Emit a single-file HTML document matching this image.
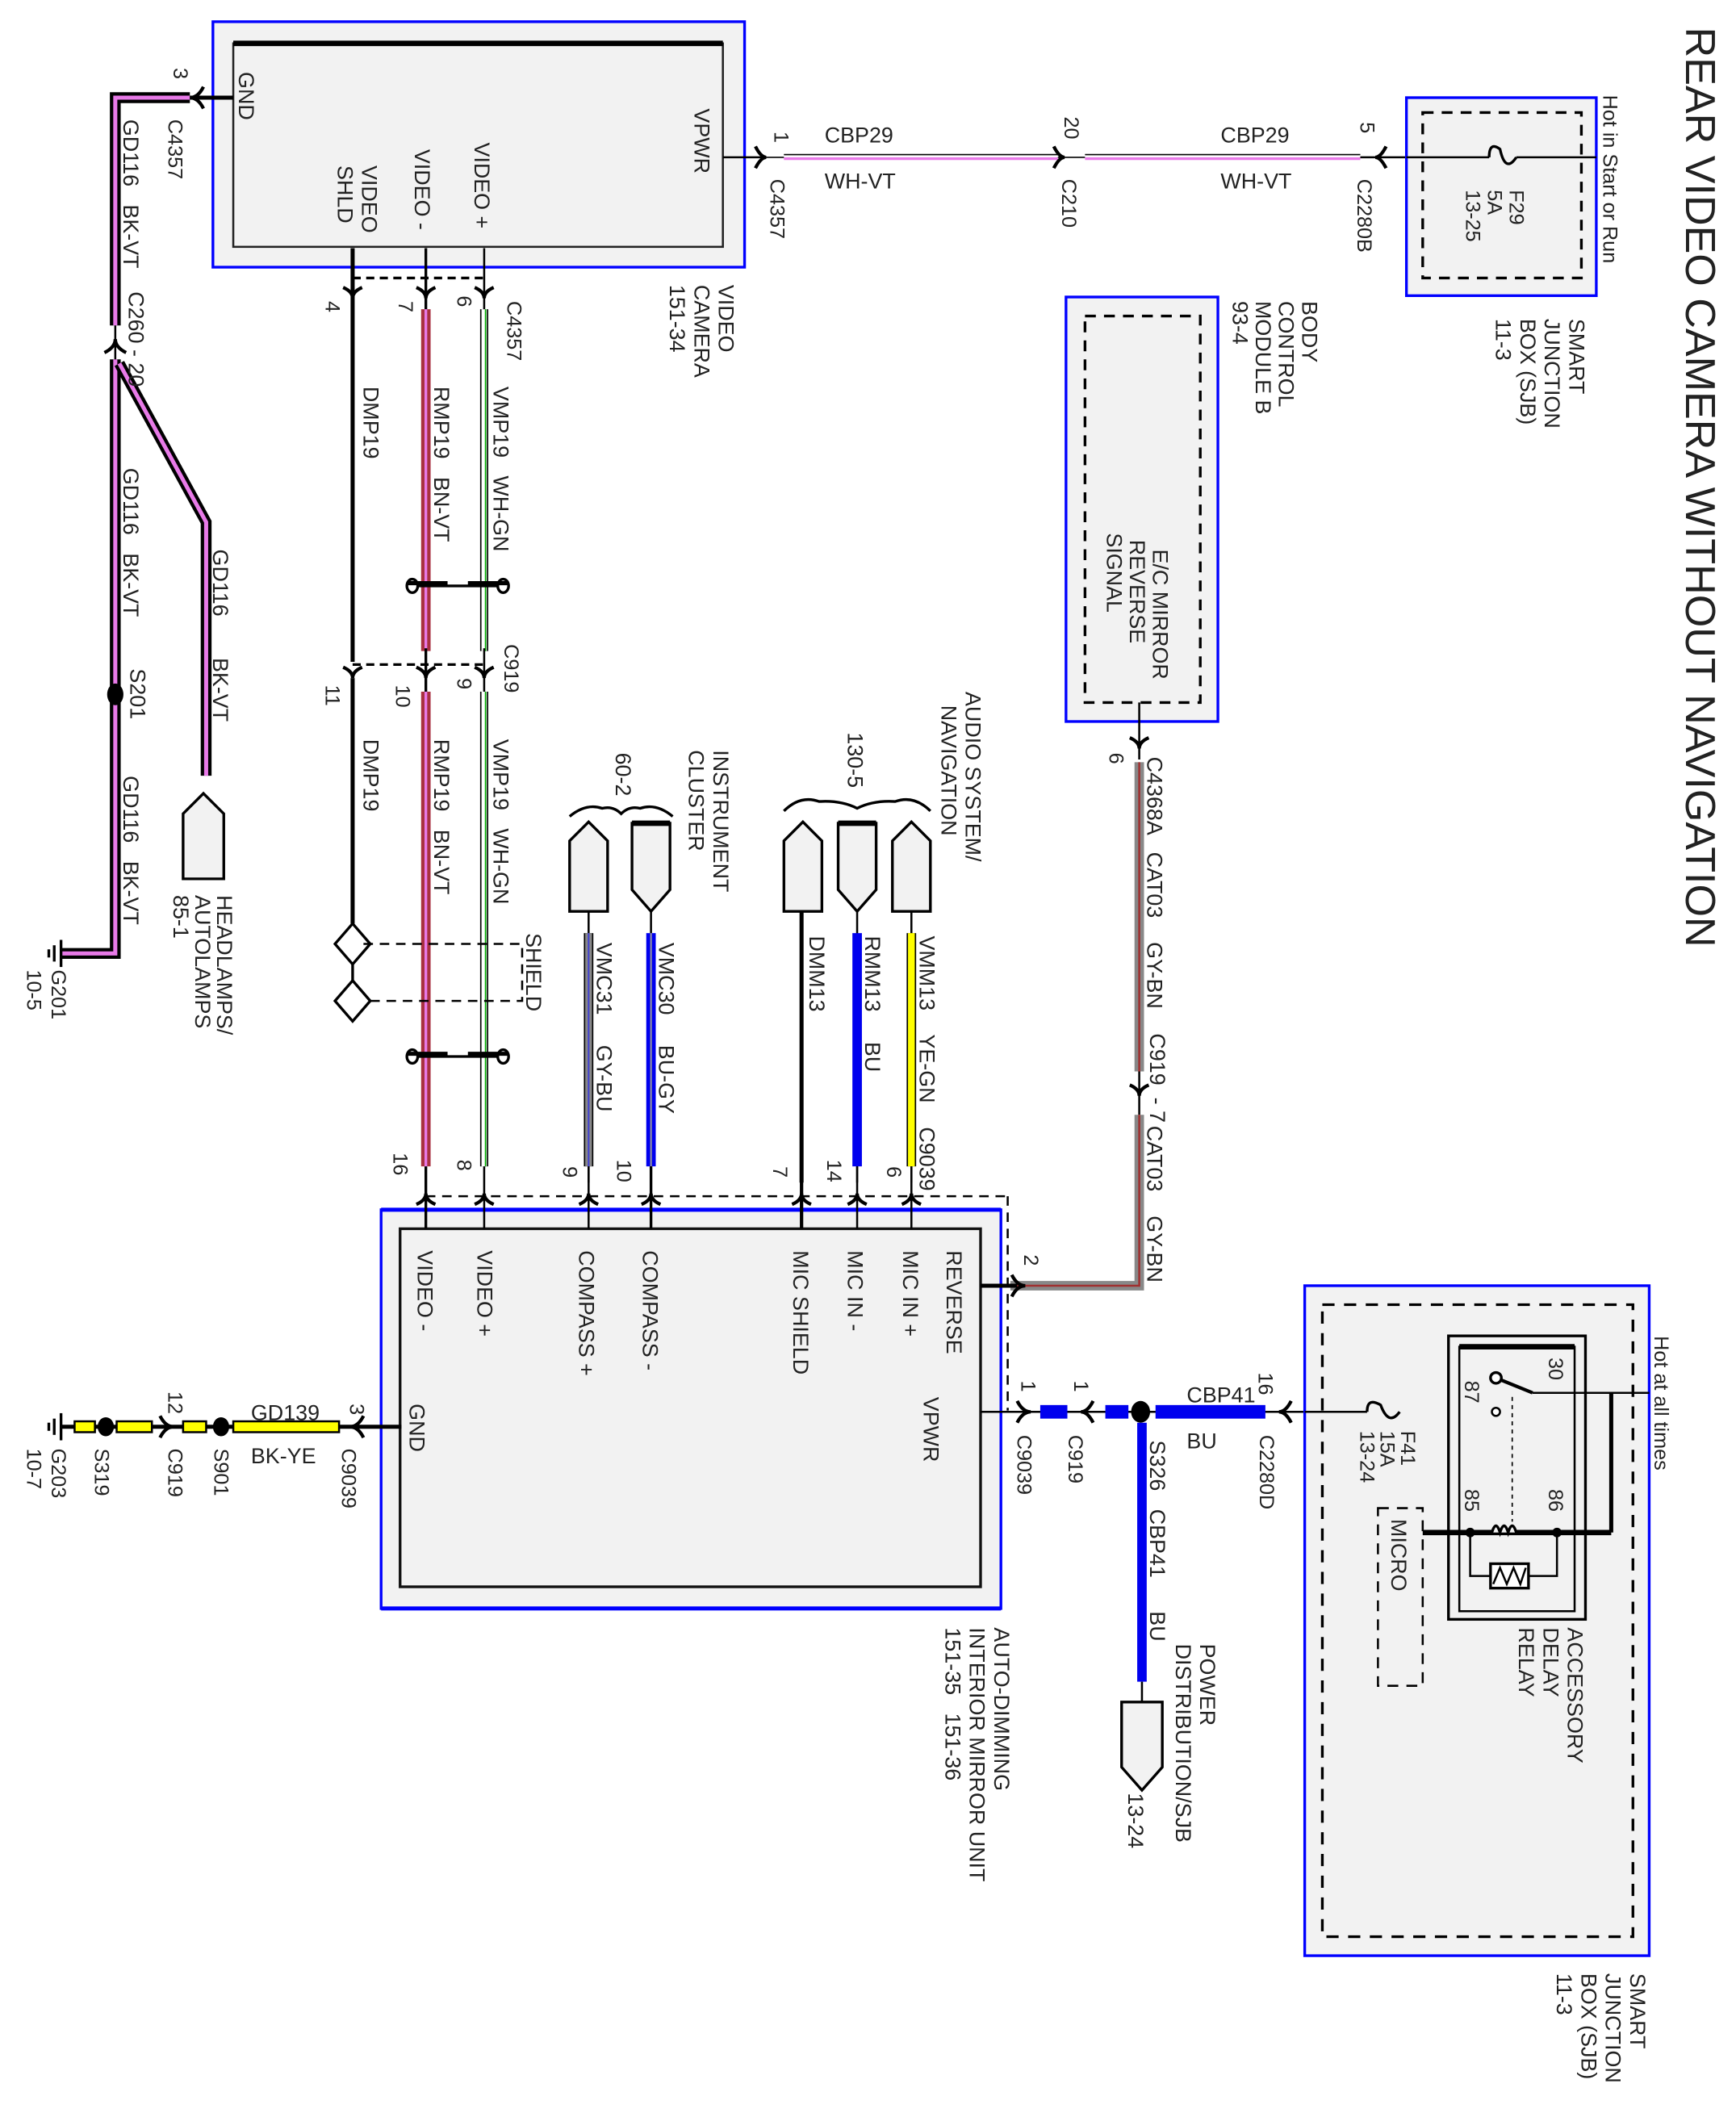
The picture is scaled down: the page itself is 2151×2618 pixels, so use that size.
<!DOCTYPE html>
<html><head><meta charset="utf-8">
<style>
html,body{margin:0;padding:0;background:#fff;}
svg{display:block;}
text{font-family:"Liberation Sans",Arial,sans-serif;fill:#222;font-size:16px;white-space:pre;}
.s{font-size:15px;}
</style></head>
<body>
<svg width="2151" height="2618" viewBox="0 0 1280 1558" preserveAspectRatio="none" xmlns="http://www.w3.org/2000/svg" xml:space="preserve">
<defs>
<path id="ad" d="M-7,-8 Q0,-5 0,0 Q0,-5 7,-8" fill="none" stroke="#000" stroke-width="2.5"/>
</defs>
<rect width="1280" height="1558" fill="#fff"/>

<text transform="translate(1243,20) rotate(90)" style="font-size:31px">REAR VIDEO CAMERA WITHOUT NAVIGATION</text>

<rect x="157" y="16" width="392" height="181" fill="#f2f2f2" stroke="#0000ff" stroke-width="2"/>
<rect x="172" y="32" width="361" height="150" fill="#f2f2f2" stroke="#222" stroke-width="1.5"/>
<line x1="172" y1="32" x2="533" y2="32" stroke="#000" stroke-width="4"/>
<text transform="translate(176,53) rotate(90)">GND</text>
<text transform="translate(512,80) rotate(90)">VPWR</text>
<text transform="translate(350,105) rotate(90)">VIDEO +</text>
<text transform="translate(306,110) rotate(90)">VIDEO -</text>
<text transform="translate(267,122) rotate(90)">VIDEO<tspan x="0" dy="18">SHLD</tspan></text>
<text transform="translate(530,210) rotate(90)">VIDEO<tspan x="0" dy="18">CAMERA</tspan><tspan x="0" dy="18">151-34</tspan></text>

<line x1="260" y1="183" x2="260" y2="488" stroke="#000" stroke-width="3"/>
<line x1="314" y1="183" x2="314" y2="230" stroke="#000" stroke-width="2"/>
<line x1="357" y1="183" x2="357" y2="230" stroke="#000" stroke-width="1.5"/>
<line x1="260" y1="205" x2="357" y2="205" stroke="#000" stroke-width="2" stroke-dasharray="6,4"/>
<use href="#ad" x="260" y="220"/><use href="#ad" x="314" y="220"/><use href="#ad" x="357" y="220"/>
<text class="s" transform="translate(240,222) rotate(90)">4</text>
<text class="s" transform="translate(294,222) rotate(90)">7</text>
<text class="s" transform="translate(337,218) rotate(90)">6</text>
<text class="s" transform="translate(374,222) rotate(90)">C4357</text>

<line x1="314" y1="228" x2="314" y2="480" stroke="#a83040" stroke-width="7"/>
<line x1="314" y1="228" x2="314" y2="480" stroke="#e87ae8" stroke-width="2"/>
<line x1="357" y1="228" x2="357" y2="480" stroke="#000" stroke-width="6"/>
<line x1="357" y1="228" x2="357" y2="480" stroke="#fff" stroke-width="4"/>
<line x1="358" y1="228" x2="358" y2="480" stroke="#0a0" stroke-width="1"/>
<text transform="translate(268,285) rotate(90)">DMP19</text>
<text transform="translate(320,285) rotate(90)">RMP19   BN-VT</text>
<text transform="translate(364,285) rotate(90)">VMP19   WH-GN</text>
<g fill="none" stroke="#000" stroke-width="2">
<path d="M300,432 L375,432"/>
<ellipse cx="304" cy="432" rx="4" ry="5" fill="#fff"/><ellipse cx="371" cy="432" rx="4" ry="5" fill="#fff"/>
<line x1="300" y1="430" x2="330" y2="430" stroke-width="3"/><line x1="345" y1="430" x2="375" y2="430" stroke-width="3"/>
</g>
<line x1="260" y1="490" x2="357" y2="490" stroke="#000" stroke-width="2" stroke-dasharray="6,4"/>
<line x1="314" y1="478" x2="314" y2="512" stroke="#000" stroke-width="2"/>
<line x1="357" y1="478" x2="357" y2="512" stroke="#000" stroke-width="1.5"/>
<use href="#ad" x="260" y="500"/><use href="#ad" x="314" y="500"/><use href="#ad" x="357" y="500"/>
<text class="s" transform="translate(240,505) rotate(90)">11</text>
<text class="s" transform="translate(292,505) rotate(90)">10</text>
<text class="s" transform="translate(337,500) rotate(90)">9</text>
<text class="s" transform="translate(372,475) rotate(90)">C919</text>
<line x1="260" y1="500" x2="260" y2="681" stroke="#000" stroke-width="3"/>
<line x1="314" y1="510" x2="314" y2="860" stroke="#a83040" stroke-width="7"/>
<line x1="314" y1="510" x2="314" y2="860" stroke="#e87ae8" stroke-width="2"/>
<line x1="357" y1="510" x2="357" y2="860" stroke="#000" stroke-width="6"/>
<line x1="357" y1="510" x2="357" y2="860" stroke="#fff" stroke-width="4"/>
<line x1="358" y1="510" x2="358" y2="860" stroke="#0a0" stroke-width="1"/>
<text transform="translate(268,545) rotate(90)">DMP19</text>
<text transform="translate(320,545) rotate(90)">RMP19   BN-VT</text>
<text transform="translate(364,545) rotate(90)">VMP19   WH-GN</text>
<g fill="#fff" stroke="#000" stroke-width="2">
<path d="M260,681 L273,696 L260,711 L247,696 Z"/>
<path d="M260,723 L273,738 L260,753 L247,738 Z"/>
</g>
<line x1="260" y1="711" x2="260" y2="723" stroke="#000" stroke-width="2"/>
<g stroke="#000" stroke-width="1.5" stroke-dasharray="7,5" fill="none">
<path d="M268,696 H385 V738 H268"/>
</g>
<text transform="translate(388,688) rotate(90)">SHIELD</text>
<g fill="none" stroke="#000" stroke-width="2">
<path d="M300,779 L375,779"/>
<ellipse cx="304" cy="779" rx="4" ry="5" fill="#fff"/><ellipse cx="371" cy="779" rx="4" ry="5" fill="#fff"/>
<line x1="300" y1="777" x2="330" y2="777" stroke-width="3"/><line x1="345" y1="777" x2="375" y2="777" stroke-width="3"/>
</g>

<g fill="none" stroke-linejoin="miter">
<path d="M140,72 H85 V240" stroke="#000" stroke-width="8"/>
<path d="M140,72 H85 V240" stroke="#e87ae8" stroke-width="3"/>
<path d="M85,265 V703 H45" stroke="#000" stroke-width="8"/>
<path d="M85,265 V703 H45" stroke="#e87ae8" stroke-width="3"/>
<path d="M88,268 L152,385 V572" stroke="#000" stroke-width="8"/>
<path d="M88,268 L152,385 V572" stroke="#e87ae8" stroke-width="3"/>
</g>
<line x1="140" y1="72" x2="172" y2="72" stroke="#000" stroke-width="3"/>
<path d="M150,64 Q146,72 140,72 Q146,72 150,80" fill="none" stroke="#000" stroke-width="2.5"/>
<line x1="85" y1="240" x2="85" y2="265" stroke="#000" stroke-width="1.5"/>
<path d="M77,260 Q85,256 85,250 Q85,256 93,260" fill="none" stroke="#000" stroke-width="2.5"/>
<ellipse cx="85" cy="512" rx="6" ry="8" fill="#000"/>
<text class="s" transform="translate(128,50) rotate(90)">3</text>
<text class="s" transform="translate(124,88) rotate(90)">C4357</text>
<text transform="translate(91,88) rotate(90)">GD116   BK-VT</text>
<text transform="translate(95,215) rotate(90)">C260 - 20</text>
<text transform="translate(91,345) rotate(90)">GD116   BK-VT</text>
<text transform="translate(96,493) rotate(90)">S201</text>
<text transform="translate(91,572) rotate(90)">GD116   BK-VT</text>
<text transform="translate(157,405) rotate(90)">GD116</text>
<text transform="translate(157,485) rotate(90)">BK-VT</text>
<g stroke="#000" stroke-width="2"><line x1="45" y1="693" x2="45" y2="713"/><line x1="40" y1="697" x2="40" y2="709"/><line x1="36" y1="700" x2="36" y2="706"/></g>
<text class="s" transform="translate(38,715) rotate(90)">G201</text>
<text class="s" transform="translate(20,715) rotate(90)">10-5</text>
<path d="M135,648 V600 L150,585 L165,600 V648 Z" fill="#f2f2f2" stroke="#000" stroke-width="2"/>
<text transform="translate(160,660) rotate(90)">HEADLAMPS/<tspan x="0" dy="16">AUTOLAMPS</tspan><tspan x="0" dy="16">85-1</tspan></text>

<line x1="533" y1="116" x2="565" y2="116" stroke="#000" stroke-width="1.5"/>
<path d="M557,108 Q561,116 565,116 Q561,116 557,124" fill="none" stroke="#000" stroke-width="2.5"/>
<line x1="578" y1="114" x2="780" y2="114" stroke="#000" stroke-width="1"/>
<line x1="578" y1="117" x2="780" y2="117" stroke="#e87ae8" stroke-width="2"/>
<line x1="565" y1="116" x2="578" y2="116" stroke="#000" stroke-width="1"/>
<path d="M777,108 Q781,116 785,116 Q781,116 777,124" fill="none" stroke="#000" stroke-width="2.5"/>
<line x1="780" y1="116" x2="800" y2="116" stroke="#000" stroke-width="1"/>
<line x1="800" y1="114" x2="1003" y2="114" stroke="#000" stroke-width="1"/>
<line x1="800" y1="117" x2="1003" y2="117" stroke="#e87ae8" stroke-width="2"/>
<path d="M1022,108 Q1018,116 1014,116 Q1018,116 1022,124" fill="none" stroke="#000" stroke-width="2.5"/>
<line x1="1003" y1="116" x2="1177" y2="116" stroke="#000" stroke-width="1.5"/>
<text class="s" transform="translate(571,97) rotate(90)">1</text>
<text class="s" transform="translate(568,132) rotate(90)">C4357</text>
<text x="608" y="105">CBP29</text>
<text x="608" y="139">WH-VT</text>
<text class="s" transform="translate(785,86) rotate(90)">20</text>
<text class="s" transform="translate(783,132) rotate(90)">C210</text>
<text x="900" y="105">CBP29</text>
<text x="900" y="139">WH-VT</text>
<text class="s" transform="translate(1003,90) rotate(90)">5</text>
<text class="s" transform="translate(1001,132) rotate(90)">C2280B</text>

<rect x="1037" y="72" width="140" height="146" fill="#f2f2f2" stroke="#0000ff" stroke-width="2"/>
<rect x="1049" y="83" width="117" height="122" fill="none" stroke="#000" stroke-width="2" stroke-dasharray="8,6"/>
<line x1="1037" y1="116" x2="1098" y2="116" stroke="#000" stroke-width="1.5"/>
<line x1="1118" y1="116" x2="1177" y2="116" stroke="#000" stroke-width="1.5"/>
<path d="M1098,116 Q1098,104 1106,110 Q1110,128 1118,116" fill="none" stroke="#000" stroke-width="2"/>
<text class="s" transform="translate(1113,140) rotate(90)">F29<tspan x="0" dy="16">5A</tspan><tspan x="0" dy="16">13-25</tspan></text>
<text class="s" transform="translate(1182,70) rotate(90)">Hot in Start or Run</text>
<text transform="translate(1157,235) rotate(90)">SMART<tspan x="0" dy="18">JUNCTION</tspan><tspan x="0" dy="18">BOX (SJB)</tspan><tspan x="0" dy="18">11-3</tspan></text>

<rect x="786" y="219" width="112" height="313" fill="#f2f2f2" stroke="#0000ff" stroke-width="2"/>
<rect x="800" y="233" width="85" height="285" fill="none" stroke="#000" stroke-width="2" stroke-dasharray="8,6"/>
<text transform="translate(850,405) rotate(90)">E/C MIRROR<tspan x="-7" dy="17">REVERSE</tspan><tspan x="-12" dy="17">SIGNAL</tspan></text>
<text transform="translate(960,222) rotate(90)">BODY<tspan x="0" dy="17">CONTROL</tspan><tspan x="0" dy="17">MODULE B</tspan><tspan x="0" dy="17">93-4</tspan></text>
<line x1="840" y1="518" x2="840" y2="560" stroke="#000" stroke-width="1.5"/>
<use href="#ad" x="840" y="552"/>
<line x1="840" y1="562" x2="840" y2="790" stroke="#888" stroke-width="7"/>
<line x1="840" y1="562" x2="840" y2="790" stroke="#a03030" stroke-width="1.5"/>
<line x1="840" y1="790" x2="840" y2="822" stroke="#000" stroke-width="1.5"/>
<use href="#ad" x="840" y="808"/>
<text class="s" transform="translate(818,555) rotate(90)">6</text>
<text transform="translate(846,558) rotate(90)">C4368A   CAT03    GY-BN</text>
<text transform="translate(848,762) rotate(90)">C919  - 7</text>
<text transform="translate(846,830) rotate(90)">CAT03    GY-BN</text>
<path d="M840,822 V948 H745" fill="none" stroke="#888" stroke-width="7"/>
<path d="M840,822 V948 H745" fill="none" stroke="#a03030" stroke-width="1.5"/>

<path d="M578,672 V620 L592,606 L606,620 V672 Z" fill="#f2f2f2" stroke="#000" stroke-width="2"/>
<path d="M618,607 H646 V656 L632,672 L618,656 Z" fill="#f2f2f2" stroke="#000" stroke-width="2"/>
<line x1="618" y1="607" x2="646" y2="607" stroke="#000" stroke-width="4"/>
<path d="M658,672 V620 L672,606 L686,620 V672 Z" fill="#f2f2f2" stroke="#000" stroke-width="2"/>
<path d="M578,598 Q590,586 604,591 Q620,590 632,596 Q644,590 660,591 Q674,586 686,598" fill="none" stroke="#000" stroke-width="2"/>
<text transform="translate(625,540) rotate(90)">130-5</text>
<text transform="translate(712,510) rotate(90)">AUDIO SYSTEM/<tspan x="10" dy="18">NAVIGATION</tspan></text>
<line x1="591" y1="672" x2="591" y2="872" stroke="#000" stroke-width="3"/>
<line x1="632" y1="672" x2="632" y2="872" stroke="#000" stroke-width="1.5"/>
<line x1="632" y1="688" x2="632" y2="860" stroke="#0000ee" stroke-width="7"/>
<line x1="672" y1="672" x2="672" y2="872" stroke="#000" stroke-width="1.5"/>
<line x1="672" y1="688" x2="672" y2="860" stroke="#000" stroke-width="7"/>
<line x1="672" y1="688" x2="672" y2="860" stroke="#ffff00" stroke-width="5"/>
<text transform="translate(597,690) rotate(90)">DMM13</text>
<text transform="translate(638,690) rotate(90)">RMM13     BU</text>
<text transform="translate(678,690) rotate(90)">VMM13    YE-GN    C9039</text>
<path d="M420,672 V620 L434,606 L448,620 V672 Z" fill="#f2f2f2" stroke="#000" stroke-width="2"/>
<path d="M466,607 H494 V656 L480,672 L466,656 Z" fill="#f2f2f2" stroke="#000" stroke-width="2"/>
<line x1="466" y1="607" x2="494" y2="607" stroke="#000" stroke-width="4"/>
<path d="M420,602 Q432,592 444,596 Q452,594 458,600 Q464,594 472,596 Q484,592 496,602" fill="none" stroke="#000" stroke-width="2"/>
<text transform="translate(454,555) rotate(90)">60-2</text>
<text transform="translate(526,553) rotate(90)">INSTRUMENT<tspan x="0" dy="18">CLUSTER</tspan></text>
<line x1="434" y1="672" x2="434" y2="872" stroke="#000" stroke-width="1.5"/>
<line x1="434" y1="688" x2="434" y2="860" stroke="#000" stroke-width="7"/>
<line x1="434" y1="688" x2="434" y2="860" stroke="#888" stroke-width="5"/>
<line x1="434" y1="688" x2="434" y2="860" stroke="#4040d0" stroke-width="1.2"/>
<line x1="480" y1="672" x2="480" y2="872" stroke="#000" stroke-width="1.5"/>
<line x1="480" y1="688" x2="480" y2="860" stroke="#0000ee" stroke-width="7"/>
<line x1="480" y1="688" x2="480" y2="860" stroke="#999" stroke-width="1.2"/>
<text transform="translate(440,695) rotate(90)">VMC31     GY-BU</text>
<text transform="translate(486,695) rotate(90)">VMC30     BU-GY</text>

<rect x="281" y="892" width="457" height="294" fill="#f2f2f2" stroke="#0000ff" stroke-width="2"/>
<line x1="281" y1="892" x2="738" y2="892" stroke="#0000ff" stroke-width="3"/>
<line x1="281" y1="1186" x2="738" y2="1186" stroke="#0000ff" stroke-width="3"/>
<rect x="295" y="906" width="428" height="264" fill="#f2f2f2" stroke="#111" stroke-width="2"/>
<line x1="314" y1="860" x2="314" y2="906" stroke="#000" stroke-width="2"/>
<line x1="357" y1="860" x2="357" y2="906" stroke="#000" stroke-width="1.5"/>
<line x1="434" y1="860" x2="434" y2="906" stroke="#000" stroke-width="1.5"/>
<line x1="480" y1="860" x2="480" y2="906" stroke="#000" stroke-width="2"/>
<line x1="591" y1="860" x2="591" y2="906" stroke="#000" stroke-width="2.5"/>
<line x1="632" y1="860" x2="632" y2="906" stroke="#000" stroke-width="1.5"/>
<line x1="672" y1="860" x2="672" y2="906" stroke="#000" stroke-width="1.5"/>
<line x1="314" y1="882" x2="743" y2="882" stroke="#000" stroke-width="1.5" stroke-dasharray="7,5"/>
<line x1="743" y1="882" x2="743" y2="1040" stroke="#000" stroke-width="1.5" stroke-dasharray="7,5"/>
<g>
<use href="#ad" x="314" y="872" transform="rotate(180 314 876)"/>
<use href="#ad" x="357" y="872" transform="rotate(180 357 876)"/>
<use href="#ad" x="434" y="872" transform="rotate(180 434 876)"/>
<use href="#ad" x="480" y="872" transform="rotate(180 480 876)"/>
<use href="#ad" x="591" y="872" transform="rotate(180 591 876)"/>
<use href="#ad" x="632" y="872" transform="rotate(180 632 876)"/>
<use href="#ad" x="672" y="872" transform="rotate(180 672 876)"/>
</g>
<text class="s" transform="translate(290,850) rotate(90)">16</text>
<text class="s" transform="translate(337,855) rotate(90)">8</text>
<text class="s" transform="translate(415,860) rotate(90)">9</text>
<text class="s" transform="translate(455,855) rotate(90)">10</text>
<text class="s" transform="translate(570,860) rotate(90)">7</text>
<text class="s" transform="translate(610,855) rotate(90)">14</text>
<text class="s" transform="translate(654,860) rotate(90)">6</text>
<text transform="translate(308,922) rotate(90)">VIDEO -</text>
<text transform="translate(352,922) rotate(90)">VIDEO +</text>
<text transform="translate(427,922) rotate(90)">COMPASS +</text>
<text transform="translate(474,922) rotate(90)">COMPASS -</text>
<text transform="translate(585,922) rotate(90)">MIC SHIELD</text>
<text transform="translate(625,922) rotate(90)">MIC IN -</text>
<text transform="translate(666,922) rotate(90)">MIC IN +</text>
<text transform="translate(698,922) rotate(90)">REVERSE</text>
<text transform="translate(681,1030) rotate(90)">VPWR</text>
<text transform="translate(302,1035) rotate(90)">GND</text>
<text transform="translate(733,1200) rotate(90)">AUTO-DIMMING<tspan x="0" dy="18">INTERIOR MIRROR UNIT</tspan><tspan x="0" dy="18">151-35   151-36</tspan></text>
<line x1="723" y1="948" x2="750" y2="948" stroke="#000" stroke-width="3"/>
<path d="M746,940 Q750,948 756,948 Q750,948 746,956" fill="none" stroke="#000" stroke-width="2.5"/>
<text class="s" transform="translate(755,925) rotate(90)">2</text>

<line x1="723" y1="1041" x2="1008" y2="1041" stroke="#000" stroke-width="1.5"/>
<line x1="1032" y1="1041" x2="1103" y2="1041" stroke="#000" stroke-width="1.5"/>
<path d="M750,1033 Q754,1041 760,1041 Q754,1041 750,1049" fill="none" stroke="#000" stroke-width="2.5"/>
<rect x="767" y="1036" width="20" height="10" fill="#0000ee"/>
<path d="M806,1033 Q802,1041 797,1041 Q802,1041 806,1049" fill="none" stroke="#000" stroke-width="2.5"/>
<rect x="815" y="1036" width="17" height="10" fill="#0000ee"/>
<ellipse cx="841" cy="1041" rx="7" ry="8" fill="#000"/>
<rect x="852" y="1036" width="81" height="10" fill="#0000ee"/>
<path d="M952,1033 Q948,1041 943,1041 Q948,1041 952,1049" fill="none" stroke="#000" stroke-width="2.5"/>
<text class="s" transform="translate(753,1018) rotate(90)">1</text>
<text class="s" transform="translate(750,1058) rotate(90)">C9039</text>
<text class="s" transform="translate(792,1018) rotate(90)">1</text>
<text class="s" transform="translate(788,1058) rotate(90)">C919</text>
<text x="875" y="1034">CBP41</text>
<text x="875" y="1068">BU</text>
<text class="s" transform="translate(928,1012) rotate(90)">16</text>
<text class="s" transform="translate(929,1058) rotate(90)">C2280D</text>
<line x1="842" y1="1049" x2="842" y2="1240" stroke="#0000ee" stroke-width="7"/>
<line x1="842" y1="1240" x2="842" y2="1255" stroke="#000" stroke-width="1.5"/>
<text transform="translate(848,1062) rotate(90)">S326   CBP41</text>
<text transform="translate(848,1188) rotate(90)">BU</text>
<path d="M827,1255 H857 V1303 L842,1320 L827,1303 Z" fill="#f2f2f2" stroke="#000" stroke-width="2"/>
<text transform="translate(885,1212) rotate(90)">POWER<tspan x="0" dy="18">DISTRIBUTION/SJB</tspan></text>
<text transform="translate(832,1322) rotate(90)">13-24</text>

<line x1="45" y1="1052" x2="296" y2="1052" stroke="#000" stroke-width="3"/>
<rect x="55" y="1048" width="15" height="8" fill="#ffff00" stroke="#000" stroke-width="1.5"/>
<rect x="86" y="1048" width="26" height="8" fill="#ffff00" stroke="#000" stroke-width="1.5"/>
<rect x="135" y="1048" width="17" height="8" fill="#ffff00" stroke="#000" stroke-width="1.5"/>
<rect x="172" y="1048" width="78" height="8" fill="#ffff00" stroke="#000" stroke-width="1.5"/>
<ellipse cx="78" cy="1052" rx="6" ry="7" fill="#000"/>
<ellipse cx="163" cy="1052" rx="6" ry="7" fill="#000"/>
<path d="M118,1044 Q122,1052 128,1052 Q122,1052 118,1060" fill="none" stroke="#000" stroke-width="2.5"/>
<path d="M268,1044 Q264,1052 258,1052 Q264,1052 268,1060" fill="none" stroke="#000" stroke-width="2.5"/>
<g stroke="#000" stroke-width="2"><line x1="45" y1="1042" x2="45" y2="1062"/><line x1="40" y1="1046" x2="40" y2="1058"/><line x1="36" y1="1049" x2="36" y2="1055"/></g>
<text x="185" y="1047">GD139</text>
<text x="185" y="1079">BK-YE</text>
<text class="s" transform="translate(258,1035) rotate(90)">3</text>
<text class="s" transform="translate(252,1068) rotate(90)">C9039</text>
<text class="s" transform="translate(124,1026) rotate(90)">12</text>
<text class="s" transform="translate(124,1068) rotate(90)">C919</text>
<text class="s" transform="translate(158,1068) rotate(90)">S901</text>
<text class="s" transform="translate(70,1068) rotate(90)">S319</text>
<text class="s" transform="translate(38,1068) rotate(90)">G203</text>
<text class="s" transform="translate(20,1068) rotate(90)">10-7</text>

<rect x="962" y="948" width="254" height="494" fill="#f2f2f2" stroke="#0000ff" stroke-width="2"/>
<rect x="975" y="962" width="229" height="466" fill="none" stroke="#000" stroke-width="2" stroke-dasharray="9,7"/>
<line x1="962" y1="1041" x2="1008" y2="1041" stroke="#000" stroke-width="1.5"/>
<rect x="1068" y="985" width="101" height="209" fill="#f2f2f2" stroke="#000" stroke-width="2"/>
<rect x="1076" y="993" width="85" height="195" fill="none" stroke="#000" stroke-width="1.5"/>
<line x1="1076" y1="993" x2="1161" y2="993" stroke="#000" stroke-width="4"/>
<path d="M1008,1041 Q1008,1030 1018,1036 Q1024,1052 1032,1041" fill="none" stroke="#000" stroke-width="2"/>
<circle cx="1103" cy="1041" r="3" fill="#fff" stroke="#000" stroke-width="1.5"/>
<line x1="1103" y1="1016" x2="1130" y2="1027" stroke="#000" stroke-width="2.5"/>
<circle cx="1103" cy="1016" r="4" fill="#fff" stroke="#000" stroke-width="2"/>
<path d="M1130,1027 H1216" stroke="#000" stroke-width="1.5"/>
<line x1="1188" y1="1027" x2="1188" y2="1130" stroke="#000" stroke-width="3"/>
<line x1="1115" y1="1030" x2="1115" y2="1122" stroke="#000" stroke-width="1" stroke-dasharray="3,3"/>
<line x1="1049" y1="1130" x2="1188" y2="1130" stroke="#000" stroke-width="4"/>
<path d="M1100,1130 q3,-10 6,0 q3,-10 6,0 q3,-10 6,0" fill="#f2f2f2" stroke="#000" stroke-width="2"/>
<circle cx="1084" cy="1130" r="3.5" fill="#000"/><circle cx="1148" cy="1130" r="3.5" fill="#000"/>
<path d="M1084,1130 V1162 H1099 M1148,1130 V1162 H1127" fill="none" stroke="#000" stroke-width="1.5"/>
<rect x="1099" y="1153" width="28" height="18" fill="#fff" stroke="#000" stroke-width="2"/>
<path d="M1101,1168 L1106,1156 L1111,1168 L1116,1156 L1121,1168 L1125,1156" fill="none" stroke="#000" stroke-width="1.5"/>
<rect x="1016" y="1112" width="33" height="131" fill="none" stroke="#000" stroke-width="1.5" stroke-dasharray="8,6"/>
<text transform="translate(1026,1120) rotate(90)">MICRO</text>
<text class="s" transform="translate(1142,1001) rotate(90)">30</text>
<text class="s" transform="translate(1080,1018) rotate(90)">87</text>
<text class="s" transform="translate(1080,1098) rotate(90)">85</text>
<text class="s" transform="translate(1142,1098) rotate(90)">86</text>
<text class="s" transform="translate(1033,1055) rotate(90)">F41<tspan x="0" dy="15">15A</tspan><tspan x="0" dy="15">13-24</tspan></text>
<text transform="translate(1156,1200) rotate(90)">ACCESSORY<tspan x="0" dy="18">DELAY</tspan><tspan x="0" dy="18">RELAY</tspan></text>
<text class="s" transform="translate(1220,985) rotate(90)">Hot at all times</text>
<text transform="translate(1202,1455) rotate(90)">SMART<tspan x="0" dy="18">JUNCTION</tspan><tspan x="0" dy="18">BOX (SJB)</tspan><tspan x="0" dy="18">11-3</tspan></text>
</svg>
</body></html>
